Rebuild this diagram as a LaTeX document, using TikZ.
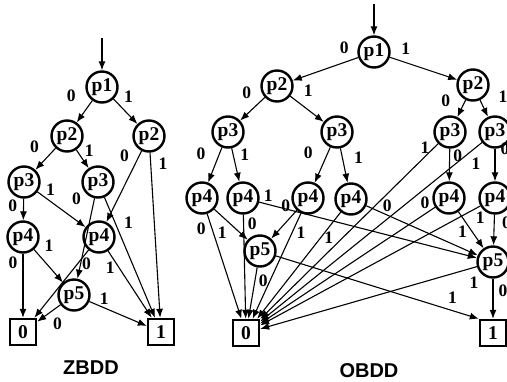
\documentclass[tikz,border=0pt]{standalone}
\usepackage{fontspec}
\setmainfont{Liberation Serif}
\setsansfont{Liberation Sans}
\usetikzlibrary{arrows.meta}

\begin{document}
\begin{tikzpicture}[%
  x=1pt, y=-1pt,
  var/.style={circle, draw, line width=2.4pt, minimum size=31pt, inner sep=0pt,
    font=\bfseries\fontsize{19.5}{19.5}\selectfont},
  term/.style={rectangle, draw, line width=2.4pt, minimum size=26pt, inner sep=0pt,
    font=\bfseries\fontsize{19.5}{19.5}\selectfont},
  link/.style={line width=1.1pt, -{Latex[length=9pt,width=7pt]}},
  lbl/.style={inner sep=0pt, font=\bfseries\fontsize{17.5}{17.5}\selectfont},
  title/.style={inner sep=0pt, font=\sffamily\bfseries\fontsize{20}{20}\selectfont}]
  \useasboundingbox (0,0) rectangle (507,381);
  \clip (0,0) rectangle (507,381);

  % ZBDD
  \coordinate (zin) at (102,38);
  \node[var] (z1) at (102,87) {p1};
  \node[var] (z2a) at (67,136) {p2};
  \node[var] (z2b) at (149,136) {p2};
  \node[var] (z3a) at (24,182) {p3};
  \node[var] (z3b) at (98,182) {p3};
  \node[var] (z4a) at (23,237) {p4};
  \node[var] (z4b) at (99,237) {p4};
  \node[var] (z5) at (74,295) {p5};
  \node[term] (zo) at (23,332) {0};
  \node[term] (zi) at (161,332) {1};
  \node[title] (ztitle) at (91,368) {ZBDD};

  \draw[link] (zin) -- (z1);
  \draw[link] (z1) -- node[lbl, at start, shift={(-21,-5)}] {0} (z2a);
  \draw[link] (z1) -- node[lbl, at start, shift={(15,-2)}] {1} (z2b);
  \draw[link] (z2a) -- node[lbl, at start, shift={(-21,-1)}] {0} (z3a);
  \draw[link] (z2a) -- node[lbl, at start, shift={(13,1)}] {1} (z3b);
  \draw[link] (z2b) -- node[lbl, at start, shift={(-17,5)}] {0} (z4b);
  \draw[link] (z2b) -- node[lbl, at start, shift={(13,11)}] {1} (zi);
  \draw[link] (z3a) -- node[lbl, at start, shift={(-11,7)}] {0} (z4a);
  \draw[link] (z3a) -- node[lbl, at start, shift={(13,-2)}] {1} (z4b);
  \draw[link] (z3b) -- node[lbl, at start, shift={(-18,0)}] {0} (z5);
  \draw[link] (z3b) -- node[lbl, at start, shift={(24,25)}] {1} (zi);
  \draw[link] (z4a) -- node[lbl, at start, shift={(-10,9)}] {0} (zo);
  \draw[link] (z4a) -- node[lbl, at start, shift={(15,-4)}] {1} (z5);
  \draw[link] (z4b) -- node[lbl, at start, shift={(-2,14)}] {0} (zo);
  \draw[link] (z4b) -- node[lbl, at start, shift={(2,17)}] {1} (zi);
  \draw[link] (z5) -- node[lbl, at start, shift={(-3,19)}] {0} (zo);
  \draw[link] (z5) -- node[lbl, at start, shift={(15,-3)}] {1} (zi);

  % OBDD
  \coordinate (oin) at (374,4);
  \node[var] (o1) at (374,52) {p1};
  \node[var] (o2a) at (277,86) {p2};
  \node[var] (o2b) at (473,85) {p2};
  \node[var] (o3a) at (228,132) {p3};
  \node[var] (o3b) at (337,132) {p3};
  \node[var] (o3c) at (450,132) {p3};
  \node[var] (o3d) at (495,132) {p3};
  \node[var] (o4a) at (202,198) {p4};
  \node[var] (o4b) at (243,198) {p4};
  \node[var] (o4c) at (308,198) {p4};
  \node[var] (o4d) at (351,199) {p4};
  \node[var] (o4e) at (449,198) {p4};
  \node[var] (o4f) at (495,198) {p4};
  \node[var] (o5a) at (260,251) {p5};
  \node[var] (o5b) at (493,262) {p5};
  \node[term] (oo) at (246,333) {0};
  \node[term] (oi) at (493,333) {1};
  \node[title] (otitle) at (369,371) {OBDD};

  \draw[link] (oin) -- (o1);
  \draw[link] (o1) -- node[lbl, at start, shift={(-14,-10)}] {0} (o2a);
  \draw[link] (o1) -- node[lbl, at start, shift={(16,-9)}] {1} (o2b);
  \draw[link] (o2a) -- node[lbl, at start, shift={(-18,-5)}] {0} (o3a);
  \draw[link] (o2a) -- node[lbl, at start, shift={(18,-5)}] {1} (o3b);
  \draw[link] (o2b) -- node[lbl, at start, shift={(-20,1)}] {0} (o3c);
  \draw[link] (o2b) -- node[lbl, at start, shift={(23,-3)}] {1} (o3d);
  \draw[link] (o3a) -- node[lbl, at start, shift={(-21,6)}] {0} (o4a);
  \draw[link] (o3a) -- node[lbl, at start, shift={(13,6)}] {1} (o4b);
  \draw[link] (o3b) -- node[lbl, at start, shift={(-22,5)}] {0} (o4c);
  \draw[link] (o3b) -- node[lbl, at start, shift={(18,9)}] {1} (o4d);
  \draw[link] (o3c) -- node[lbl, at start, shift={(8,7)}] {0} (o4e);
  \draw[link] (o3c) -- node[lbl, at start, shift={(-13,4)}] {1} (oo);
  \draw[link] (o3d) -- node[lbl, at start, shift={(10,0)}] {0} (o4f);
  \draw[link] (o3d) -- node[lbl, at start, shift={(-6,21)}] {1} (oo);
  \draw[link] (o4a) -- node[lbl, at start, shift={(-6,15)}] {0} (oo);
  \draw[link] (o4a) -- node[lbl, at start, shift={(8,23)}] {1} (o5a);
  \draw[link] (o4b) -- node[lbl, at start, shift={(9,9)}] {0} (oo);
  \draw[link] (o4b) -- node[lbl, at start, shift={(9,-6)}] {1} (o5b);
  \draw[link] (o4c) -- node[lbl, at start, shift={(-11,-5)}] {0} (o5a);
  \draw[link] (o4c) -- node[lbl, at start, shift={(0,20)}] {1} (oo);
  \draw[link] (o4d) -- node[lbl, at start, shift={(-12,26)}] {1} (oo);
  \draw[link] (o4d) -- node[lbl, at start, shift={(21,0)}] {0} (o5b);
  \draw[link] (o4e) -- node[lbl, at start, shift={(-10,-4)}] {0} (oo);
  \draw[link] (o4e) -- node[lbl, at start, shift={(4,20)}] {1} (o5b);
  \draw[link] (o4f) -- node[lbl, at start, shift={(12,8)}] {0} (o5b);
  \draw[link] (o4f) -- node[lbl, at start, shift={(0,12)}] {1} (oo);
  \draw[link] (o5a) -- node[lbl, at start, shift={(6,13)}] {0} (oo);
  \draw[link] (o5a) -- node[lbl, pos=.87, shift={(0,-13)}] {1} (oi.north west);
  \draw[link] (o5b) -- node[lbl, at start, shift={(-3,16)}] {1} (oo);
  \draw[link] (o5b) -- node[lbl, at start, shift={(10,12)}] {0} (oi);
\end{tikzpicture}
\end{document}
